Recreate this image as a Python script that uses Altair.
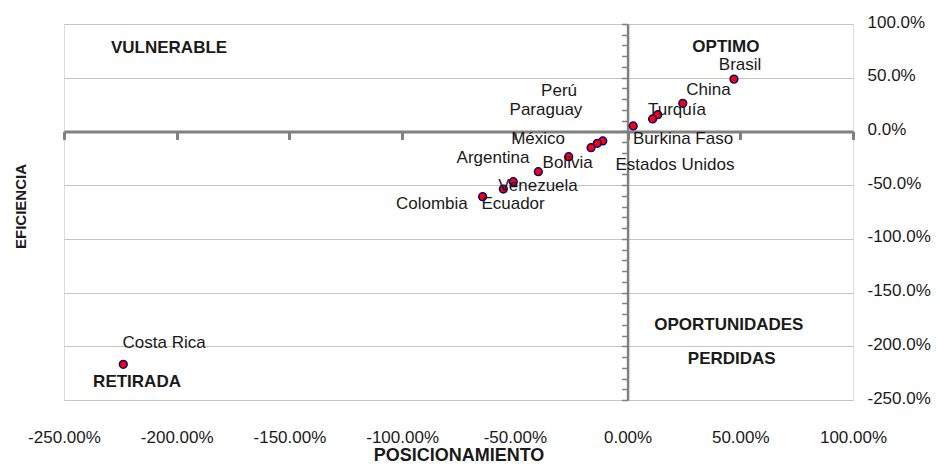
import altair as alt
import pandas as pd

# ---------------- data ----------------
countries = ["Brasil", "China", "Turquía", "Perú", "Burkina Faso", "Estados Unidos",
             "México", "Paraguay", "Bolivia", "Argentina", "Venezuela", "Ecuador",
             "Colombia", "Costa Rica"]
posicionamiento = [47.2, 24.5, 13.4, 11.1, 2.5, -11.0, -13.4, -16.2, -26.1, -39.6,
                   -50.7, -55.1, -64.3, -223.7]
eficiencia = [48.7, 26.2, 15.6, 11.6, 5.1, -8.9, -11.1, -15.1, -23.5, -37.5,
              -46.8, -53.6, -60.8, -216.8]
# where each country's data label sits (data units)
label_x = [49.9, 35.9, 21.9, -30.4, 24.6, 21.0, -39.7, -36.2, -26.6, -59.7,
           -39.7, -50.8, -86.8, -205.6]
label_y = [62.3, 38.4, 20.4, 37.5, -6.6, -31.4, -6.6, 19.5, -29.3, -24.6,
           -51.0, -67.4, -67.4, -197.4]

quadrants = ["VULNERABLE", "OPTIMO", "OPORTUNIDADES", "PERDIDAS", "RETIRADA"]
quad_x = [-203.4, 43.6, 44.9, 46.2, -217.6]
quad_y = [77.2, 78.7, -180.4, -211.4, -233.4]

x_ticks = [-250, -200, -150, -100, -50, 0, 50, 100]
y_ticks = [-250, -200, -150, -100, -50, 0, 50, 100]
y_minor = list(range(-250, 101, 10))

FONT = "Liberation Sans"
TXT = "#1a1a1a"
AXC = "#808080"

W, H = 789, 376
X0 = -250.0
Y1 = 100.0
SPAN = 350.0

df = pd.DataFrame({"pais": countries, "x": posicionamiento, "y": eficiencia,
                   "lx": label_x, "ly": label_y})
qdf = pd.DataFrame({"q": quadrants, "x": quad_x, "y": quad_y})

xs = alt.Scale(domain=[-250, 100], nice=False, zero=False)
ys = alt.Scale(domain=[-250, 100], nice=False, zero=False)

x_main = alt.Axis(orient="bottom", values=x_ticks,
                  labelExpr="(datum.value < 0 ? '-' : '') + format(abs(datum.value), '.2f') + '%'",
                  title="POSICIONAMIENTO", ticks=False, tickSize=0, domain=False, grid=False,
                  labelPadding=29, labelFont=FONT, labelFontSize=17, labelColor=TXT,
                  labelFlush=False, labelOverlap=False, labelBound=False,
                  titleFont=FONT, titleFontSize=18, titleFontWeight="bold", titleColor=TXT,
                  titleBaseline="alphabetic", titleY=60.5)
y_main = alt.Axis(orient="right", values=y_ticks,
                  labelExpr="(datum.value < 0 ? '-' : '') + format(abs(datum.value), '.1f') + '%'",
                  title=None, ticks=False, tickSize=0, domain=False, grid=True,
                  gridColor="#c4c4c4", gridWidth=1,
                  labelPadding=14, labelOffset=-2, labelFont=FONT, labelFontSize=17,
                  labelColor=TXT, labelFlush=False, labelOverlap=False, labelBound=False)

x_zero = alt.Axis(orient="bottom", offset=-(H - (Y1 - 0) / SPAN * H), values=x_ticks,
                  labels=False, ticks=True, tickSize=8, tickWidth=3, tickColor=AXC,
                  domain=True, domainColor=AXC, domainWidth=3, grid=False, title=None)
y_zero = alt.Axis(orient="left", offset=-((0 - X0) / SPAN * W), values=y_minor,
                  labels=False, ticks=True, tickSize=6, tickWidth=1.5, tickColor=AXC,
                  domain=True, domainColor=AXC, domainWidth=2.5, grid=False, title=None)
y_title = alt.Axis(orient="left", labels=False, ticks=False, domain=False, grid=False,
                   title="EFICIENCIA", titleFont=FONT, titleFontSize=15, titleFontWeight="bold",
                   titleColor=TXT, titleAngle=270, titleBaseline="alphabetic",
                   titleX=-39, titleY=182)

points = alt.Chart(df).mark_circle(size=60, fill="#FF0000", stroke="#000080",
                                   strokeWidth=1.5, opacity=1).encode(
    x=alt.X("x:Q", scale=xs, axis=x_main),
    y=alt.Y("y:Q", scale=ys, axis=y_main),
)

labels = alt.Chart(df).mark_text(font=FONT, fontSize=17, color=TXT,
                                 align="center", baseline="middle").encode(
    x=alt.X("lx:Q", scale=xs, axis=x_zero),
    y=alt.Y("ly:Q", scale=ys, axis=y_zero),
    text="pais:N",
)

quads = alt.Chart(qdf).mark_text(font=FONT, fontSize=17, fontWeight="bold", color=TXT,
                                 align="center", baseline="middle").encode(
    x=alt.X("x:Q", scale=xs, axis=None),
    y=alt.Y("y:Q", scale=ys, axis=y_title),
    text="q:N",
)

chart = alt.layer(points, labels, quads).resolve_axis(
    x="independent", y="independent"
).properties(
    width=W, height=H,
    autosize=alt.AutoSizeParams(type="none"),
    padding={"left": 56, "top": 16, "right": 78, "bottom": 64},
).configure_view(stroke=AXC, strokeWidth=2).configure(background="white")

chart.save("out.html", embed_options={"renderer": "svg", "actions": False})
